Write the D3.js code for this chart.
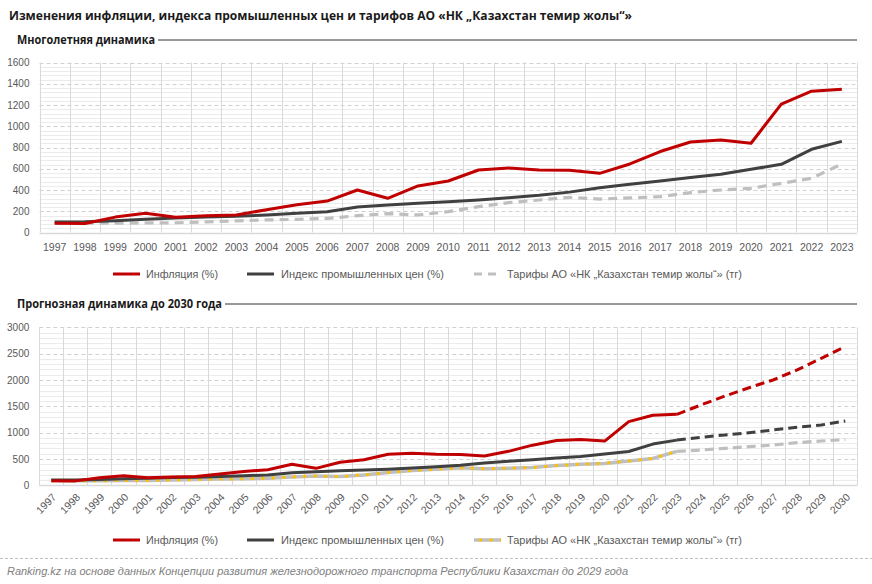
<!DOCTYPE html>
<html><head><meta charset="utf-8">
<script src="https://cdn.jsdelivr.net/npm/d3@7"></script>
<style>
html,body{margin:0;padding:0;background:#fff;}
svg{display:block;font-family:"Liberation Sans",Arial,sans-serif;}
</style></head>
<body><svg id="c" width="872" height="584"></svg>
<script>
// ---------- DATA ----------
const yearsHist = ["1997","1998","1999","2000","2001","2002","2003","2004","2005","2006","2007","2008","2009","2010","2011","2012","2013","2014","2015","2016","2017","2018","2019","2020","2021","2022","2023"];
const yearsForecast = ["2024","2025","2026","2027","2028","2029","2030"];
const inflation = [88,84,145,182,143,158,165,215,262,296,400,322,438,485,588,608,588,585,557,645,762,852,870,840,1209,1330,1348];
const industrialIndex = [100,102,111,124,136,146,152,165,182,196,240,258,275,290,307,328,350,380,422,455,485,518,548,595,642,783,858];
const tariffs = [88,88,88,90,92,100,110,118,124,133,158,178,165,196,243,281,306,331,315,325,337,375,400,416,463,510,645];
const inflationForecast = [1525,1695,1853,2000,2190,2411,2633];
const industrialForecast = [911,955,999,1050,1101,1145,1221];
const tariffsForecast = [670,702,733,765,809,841,866];
const topTicks = [0,200,400,600,800,1000,1200,1400,1600];
const bottomTicks = [0,500,1000,1500,2000,2500,3000];

const title = "Изменения инфляции, индекса промышленных цен и тарифов АО «НК „Казахстан темир жолы“»";
const sub1 = "Многолетняя динамика";
const sub2 = "Прогнозная динамика до 2030 года";
const legendNames = ["Инфляция (%)","Индекс промышленных цен (%)","Тарифы АО «НК „Казахстан темир жолы“» (тг)"];
const source = "Ranking.kz на основе данных Концепции развития железнодорожного транспорта Республики Казахстан до 2029 года";

const RED="#C00000", DARK="#404040", GRAY="#BFBFBF", YEL="#FFC000";

const svg = d3.select("#c");

// ---------- headings ----------
svg.append("text").attr("x",9).attr("y",20).attr("font-family","'Open Sans',sans-serif")
  .attr("font-weight","bold").attr("font-size",12.5).attr("fill","#1a1a1a")
  .attr("textLength",623).attr("lengthAdjust","spacingAndGlyphs").text(title);

function subtitle(txt,y,w){
  svg.append("text").attr("x",17).attr("y",y+4).attr("font-family","'Open Sans',sans-serif")
    .attr("font-weight","bold").attr("font-size",11.5).attr("fill","#1a1a1a")
    .attr("textLength",w).attr("lengthAdjust","spacingAndGlyphs").text(txt);
  svg.append("line").attr("x1",17+w+3).attr("x2",857).attr("y1",y).attr("y2",y)
    .attr("stroke","#333").attr("stroke-width",1);
}
subtitle(sub1,40,138);
subtitle(sub2,304,205);

// ---------- chart builder ----------
function buildChart(cfg){
  const g = svg.append("g");
  const x = d3.scaleBand().domain(cfg.cats).range([cfg.x0,cfg.x1]).padding(0);
  const y = d3.scaleLinear().domain([0,cfg.ymax]).range([cfg.yb,cfg.yt]);
  const cx = d => x(d)+x.bandwidth()/2;
  g.append("g").selectAll("line").data(d3.range(cfg.minor,cfg.ymax,cfg.minor).filter(v=>v%cfg.major!==0))
    .join("line").attr("x1",cfg.x0).attr("x2",cfg.x1).attr("y1",d=>Math.round(y(d))+0.5).attr("y2",d=>Math.round(y(d))+0.5)
    .attr("stroke","#ebebeb").attr("stroke-width",1);
  g.append("g").selectAll("line").data(cfg.ticks.filter(v=>v>0))
    .join("line").attr("x1",cfg.x0).attr("x2",cfg.x1).attr("y1",d=>Math.round(y(d))+0.5).attr("y2",d=>Math.round(y(d))+0.5)
    .attr("stroke","#d0d0d0").attr("stroke-width",1).attr("stroke-dasharray","4,3");
  const bounds = cfg.cats.map(d=>x(d)).concat([cfg.x1]);
  g.append("g").selectAll("line").data(bounds).join("line")
    .attr("x1",d=>Math.round(d)+0.5).attr("x2",d=>Math.round(d)+0.5).attr("y1",cfg.yt).attr("y2",cfg.yb)
    .attr("stroke","#d9d9d9").attr("stroke-width",1);
  g.append("line").attr("x1",cfg.x0).attr("x2",cfg.x1).attr("y1",Math.round(y(0))+0.5).attr("y2",Math.round(y(0))+0.5)
    .attr("stroke","#d9d9d9").attr("stroke-width",1.3);
  const ya = d3.axisLeft(y).tickValues(cfg.ticks).tickSize(0).tickPadding(0).tickFormat(d3.format("d"));
  const yg = g.append("g").attr("transform",`translate(${cfg.x0-10},0)`).call(ya);
  yg.select(".domain").remove();
  yg.selectAll("text").attr("font-size",10).attr("fill","#595959").attr("font-family","'Liberation Sans',Arial,sans-serif");
  const xa = d3.axisBottom(x).tickSize(0).tickPadding(0);
  const xg = g.append("g").attr("transform",`translate(0,${cfg.yb})`).call(xa);
  xg.select(".domain").remove();
  xg.selectAll("text").attr("font-size",10.5).attr("fill","#595959").attr("font-family","'Liberation Sans',Arial,sans-serif");
  if(cfg.rotate){
    xg.selectAll("text").attr("text-anchor","end").attr("dy","0.35em")
      .attr("transform",`translate(3,10) rotate(-45)`).attr("y",0);
  } else {
    xg.selectAll("text").attr("y",11);
  }
  return {g,x,y,cx};
}

// ---------- Top chart ----------
const chartTop = buildChart({cats:yearsHist,x0:39.5,x1:857,yt:62.5,yb:232.5,ymax:1600,minor:40,major:200,ticks:topTicks,rotate:false});
const lineTop = d3.line().x((d,i)=>chartTop.cx(yearsHist[i])).y(d=>chartTop.y(d));
chartTop.g.append("path").attr("d",lineTop(tariffs)).attr("fill","none").attr("stroke",GRAY).attr("stroke-width",3.2).attr("stroke-dasharray","9,6");
chartTop.g.append("path").attr("d",lineTop(industrialIndex)).attr("fill","none").attr("stroke",DARK).attr("stroke-width",3).attr("stroke-linejoin","round");
chartTop.g.append("path").attr("d",lineTop(inflation)).attr("fill","none").attr("stroke",RED).attr("stroke-width",3).attr("stroke-linejoin","round");

// ---------- Bottom chart ----------
const yearsAll = yearsHist.concat(yearsForecast);
const chartBot = buildChart({cats:yearsAll,x0:39.3,x1:857.3,yt:327.3,yb:485.3,ymax:3000,minor:100,major:500,ticks:bottomTicks,rotate:true});
const lineHist = d3.line().x((d,i)=>chartBot.cx(yearsHist[i])).y(d=>chartBot.y(d));
const fYears = [yearsHist[yearsHist.length-1]].concat(yearsForecast);
const lineFc = d3.line().x((d,i)=>chartBot.cx(fYears[i])).y(d=>chartBot.y(d));
const last = a => a[a.length-1];
chartBot.g.append("path").attr("d",lineHist(tariffs)).attr("fill","none").attr("stroke",GRAY).attr("stroke-width",3.5);
chartBot.g.append("path").attr("d",lineHist(tariffs)).attr("fill","none").attr("stroke",YEL).attr("stroke-width",3).attr("stroke-dasharray","3,7.5");
chartBot.g.append("path").attr("d",lineFc([last(tariffs)].concat(tariffsForecast))).attr("fill","none").attr("stroke",GRAY).attr("stroke-width",3.2).attr("stroke-dasharray","9,5");
chartBot.g.append("path").attr("d",lineHist(industrialIndex)).attr("fill","none").attr("stroke",DARK).attr("stroke-width",3).attr("stroke-linejoin","round");
chartBot.g.append("path").attr("d",lineFc([last(industrialIndex)].concat(industrialForecast))).attr("fill","none").attr("stroke",DARK).attr("stroke-width",3).attr("stroke-dasharray","9,5");
chartBot.g.append("path").attr("d",lineHist(inflation)).attr("fill","none").attr("stroke",RED).attr("stroke-width",3).attr("stroke-linejoin","round");
chartBot.g.append("path").attr("d",lineFc([last(inflation)].concat(inflationForecast))).attr("fill","none").attr("stroke",RED).attr("stroke-width",3).attr("stroke-dasharray","9,5");

// ---------- legends ----------
function legend(y, dotted){
  const items = [
    {sx:113, tx:146, tw:72, name:legendNames[0], type:"red"},
    {sx:247, tx:281, tw:163, name:legendNames[1], type:"dark"},
    {sx:474, tx:507, tw:235, name:legendNames[2], type:"gray"}
  ];
  items.forEach(it=>{
    if(it.type==="red") svg.append("line").attr("x1",it.sx).attr("x2",it.sx+27).attr("y1",y).attr("y2",y).attr("stroke",RED).attr("stroke-width",3);
    if(it.type==="dark") svg.append("line").attr("x1",it.sx).attr("x2",it.sx+27).attr("y1",y).attr("y2",y).attr("stroke",DARK).attr("stroke-width",3);
    if(it.type==="gray"){
      if(dotted){
        svg.append("line").attr("x1",it.sx).attr("x2",it.sx+27).attr("y1",y).attr("y2",y).attr("stroke",GRAY).attr("stroke-width",3.5);
        svg.append("line").attr("x1",it.sx+5).attr("x2",it.sx+27).attr("y1",y).attr("y2",y).attr("stroke",YEL).attr("stroke-width",3).attr("stroke-dasharray","3,7.5");
      } else {
        svg.append("line").attr("x1",it.sx).attr("x2",it.sx+27).attr("y1",y).attr("y2",y).attr("stroke",GRAY).attr("stroke-width",3.2).attr("stroke-dasharray","8,6");
      }
    }
    svg.append("text").attr("x",it.tx).attr("y",y+4).attr("font-size",11).attr("fill","#595959")
      .attr("font-family","'Liberation Sans Narrow','Liberation Sans',Arial,sans-serif")
      .attr("textLength",it.tw).attr("lengthAdjust","spacingAndGlyphs").text(it.name);
  });
}
legend(274,false);
legend(540,true);

// ---------- footer ----------
svg.append("line").attr("x1",0).attr("x2",872).attr("y1",558.5).attr("y2",558.5).attr("stroke","#bfbfbf").attr("stroke-dasharray","3,2");
svg.append("text").attr("x",7).attr("y",575).attr("font-size",11.5).attr("font-style","italic").attr("fill","#808080")
  .attr("font-family","'Liberation Sans Narrow','Liberation Sans',Arial,sans-serif")
  .attr("textLength",621).attr("lengthAdjust","spacingAndGlyphs").text(source);
</script></body></html>
